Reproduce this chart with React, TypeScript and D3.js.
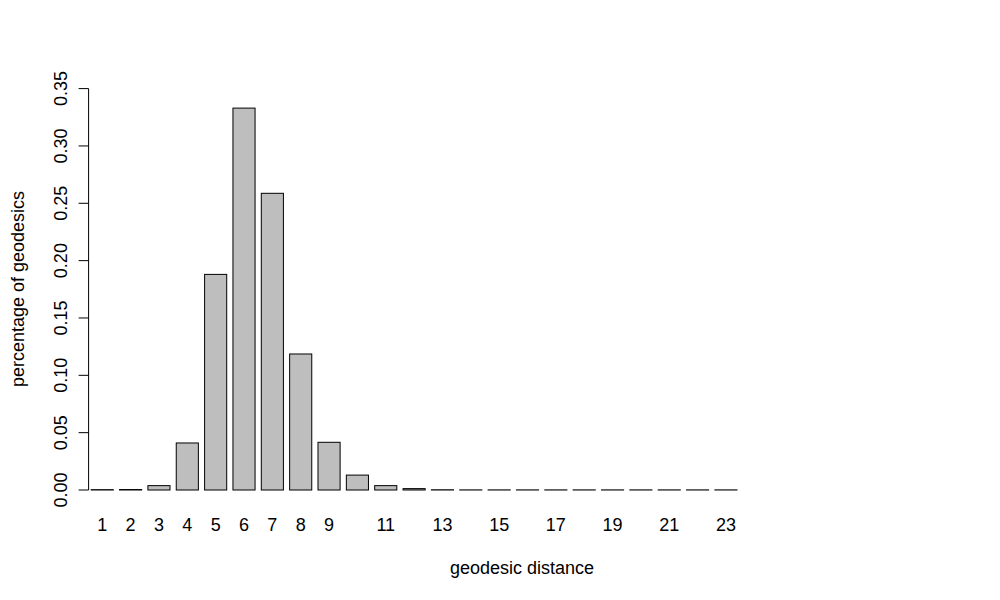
import React from "react";
import * as d3 from "d3";

const categories: number[] = Array.from({ length: 23 }, (_, i) => i + 1);
const values: number[] = [
  0.0003, 0.0004, 0.0038, 0.041, 0.188, 0.333, 0.2587, 0.1186, 0.0416, 0.013,
  0.0038, 0.0012, 0.0002, 0.0001, 0.0001, 0.0001, 0.0001, 0.0001, 0.0001,
  0.0001, 0.0001, 0.0001, 0.0001,
];
const xTickLabels: number[] = [1, 2, 3, 4, 5, 6, 7, 8, 9, 11, 13, 15, 17, 19, 21, 23];
const yTicks: number[] = [0, 0.05, 0.1, 0.15, 0.2, 0.25, 0.3, 0.35];

const W = 1000;
const H = 600;
const FONT = "'Liberation Sans', Arial, Helvetica, sans-serif";
const FS = 18;

export default function App() {
  const x = d3
    .scaleBand<number>()
    .domain(categories)
    .range([91.2, 737])
    .paddingInner(0.22)
    .paddingOuter(0);
  const y = d3.scaleLinear().domain([0, 0.35]).range([490, 88.6]);
  const axisX = 88.6;

  return (
    <svg
      width={W}
      height={H}
      style={{ position: "absolute", left: 0, top: 0, background: "#fff" }}
      fontFamily={FONT}
    >
      <rect x={0} y={0} width={W} height={H} fill="#fff" />
      {categories.map((c, i) => (
        <rect
          key={c}
          x={x(c)!}
          y={y(values[i])}
          width={x.bandwidth()}
          height={y(0) - y(values[i])}
          fill="#BEBEBE"
          stroke="#000"
          strokeWidth={1}
        />
      ))}
      {/* y axis */}
      <line x1={axisX} x2={axisX} y1={y(0)} y2={y(0.35)} stroke="#000" strokeWidth={1} />
      {yTicks.map((t) => (
        <g key={t}>
          <line x1={axisX - 10} x2={axisX} y1={y(t)} y2={y(t)} stroke="#000" strokeWidth={1} />
          <text
            transform={`translate(${axisX - 22},${y(t)}) rotate(-90)`}
            textAnchor="middle"
            fontSize={FS}
            fill="#000"
          >
            {t.toFixed(2)}
          </text>
        </g>
      ))}
      {/* x labels */}
      {xTickLabels.map((l) => (
        <text
          key={l}
          x={x(l)! + x.bandwidth() / 2}
          y={531}
          textAnchor="middle"
          fontSize={FS}
          fill="#000"
        >
          {l}
        </text>
      ))}
      <text x={522} y={574} textAnchor="middle" fontSize={FS} fill="#000">
        geodesic distance
      </text>
      <text
        transform={`translate(${23.5},${289}) rotate(-90)`}
        textAnchor="middle"
        fontSize={FS}
        fill="#000"
      >
        percentage of geodesics
      </text>
    </svg>
  );
}
